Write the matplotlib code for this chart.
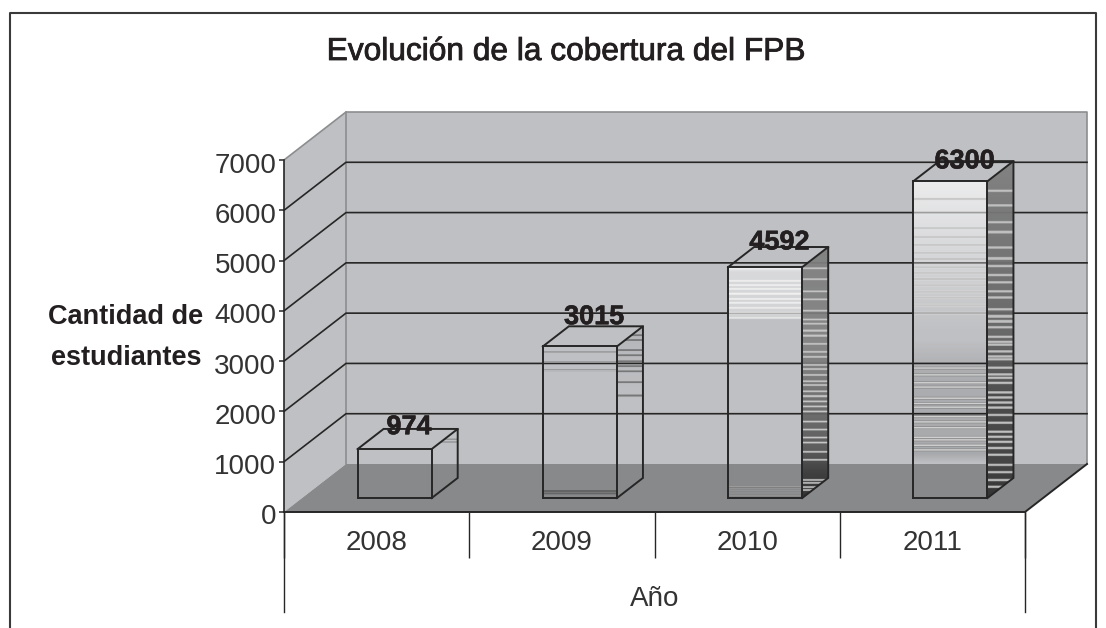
#!/usr/bin/env python3
# -*- coding: utf-8 -*-
import matplotlib
matplotlib.use("Agg")
import matplotlib.pyplot as plt
import matplotlib.patheffects as pe
import numpy as np
from matplotlib.lines import Line2D
from matplotlib.patches import Polygon
from matplotlib.transforms import ScaledTranslation

years = ["2008", "2009", "2010", "2011"]
students = [974, 3015, 4592, 6300]
y_ticks = [0, 1000, 2000, 3000, 4000, 5000, 6000, 7000]

title = "Evolución de la cobertura del FPB"
y_label = "Cantidad de\nestudiantes"
x_label = "Año"

# banding of the bar faces, as fractions of the face height (0 bottom, 1 top)
# shading anchors are (fraction, gray, alpha)
front_shade = [
    [(0, 0, 0), (1, 0, 0)],
    [(0, 0, 0), (1, 0, 0)],
    [(0, 1, 0), (0.77, 1, 0), (0.79, 1, 0.3), (0.98, 1, 0.4), (1, 1, 0.85)],
    [(0, 0, 0), (0.11, 0, 0), (0.14, 0, 0.12), (0.40, 0, 0.1), (0.50, 0, 0),
     (0.52, 1, 0), (0.60, 1, 0.12), (1, 1, 0.7)],
]
front_lines = [
    [],
    [(0.96, 0.95), (0.894, 0.9), (0.841, 0.9), (0.046, 0.45), (0.03, 0.45)],
    [(0.94, 0.97), (0.922, 0.97), (0.905, 0.97), (0.884, 0.97), (0.862, 0.97),
     (0.845, 0.97), (0.823, 0.95), (0.802, 0.95), (0.78, 0.92),
     (0.047, 0.42), (0.03, 0.42), (0.013, 0.42)],
    [(f, 0.78) for f in (0.943, 0.852, 0.823, 0.798, 0.773, 0.754, 0.729, 0.71,
                         0.691, 0.672, 0.65, 0.631, 0.609, 0.584)]
    + [(f, 0.82) for f in (0.41, 0.388, 0.363, 0.35, 0.315, 0.299, 0.287, 0.256,
                           0.24, 0.221, 0.192, 0.183, 0.167, 0.151)],
]
side_shade = [
    [(0, 0, 0), (1, 0, 0)],
    [(0, 0, 0), (0.55, 0, 0), (0.95, 0, 0.05), (1, 0, 0.1)],
    [(0, 0.2, 1), (0.1, 0.25, 1), (0.2, 0.35, 0.95), (0.6, 0.5, 0.9), (1, 0.5, 0.95)],
    [(0, 0.2, 1), (0.1, 0.27, 1), (0.3, 0.3, 1), (0.5, 0.4, 0.95), (1, 0.5, 0.95)],
]
side_lines = [
    [(0.84, 0.5), (0.8, 0.65)],
    [(f, 0.45) for f in (0.947, 0.918, 0.86, 0.83, 0.795, 0.766, 0.737, 0.673, 0.596)],
    [(f, 0.78) for f in (0.912, 0.868, 0.82, 0.788, 0.744, 0.708, 0.692, 0.664, 0.644,
                         0.612, 0.58, 0.56, 0.528, 0.512, 0.488, 0.464, 0.448, 0.424,
                         0.404, 0.384, 0.364, 0.344, 0.304, 0.272, 0.24, 0.22, 0.184,
                         0.152, 0.072, 0.06, 0.044, 0.032)],
    [(f, 0.75) for f in (0.911, 0.869, 0.818, 0.789, 0.744, 0.711, 0.688, 0.661, 0.64,
                         0.613, 0.595, 0.56, 0.539, 0.524, 0.506, 0.479, 0.464, 0.455,
                         0.435, 0.42, 0.411, 0.387, 0.366, 0.357, 0.342, 0.313, 0.298,
                         0.283, 0.268, 0.247, 0.223, 0.196, 0.182, 0.167, 0.149, 0.128,
                         0.098, 0.077, 0.054, 0.033)],
]

W, H = 1106, 628
wall_c = "#bfc0c3"
floor_c = "#88898b"
edge_c = "#8c8d8f"
ink = "#231f20"
line_c = "#262626"
num_c = "#333333"
num_size = 20

plt.rcParams["font.family"] = ["Liberation Sans", "DejaVu Sans"]

fig = plt.figure(figsize=(W / 100, H / 100), dpi=100, facecolor="white")
ax = fig.add_axes([284 / W, (H - 512) / H, (1025 - 284) / W, (512 - 160) / H])

# oblique depth: one full depth unit moves this far in data units
DX = 62 / (741 / 4)
DY = 48 / (352 / 7000)


def pr(x, y, d):
    return (x + d * DX, y + d * DY)


def texture(shade, lines, n=600):
    fr = (np.arange(n) + 0.5) / n
    a = np.array(shade)
    g = np.interp(fr, a[:, 0], a[:, 1])
    al = np.interp(fr, a[:, 0], a[:, 2])
    for f, v in lines:
        k = np.abs(fr - f) < 0.0035
        g[k] = v
        al[k] = 0.9
    return np.dstack([g, g, g, al]).reshape(n, 1, 4)


n = len(years)
xmax = n
ymax = y_ticks[-1]

# side wall, back wall, floor
ax.add_patch(Polygon([pr(0, 0, 0), pr(0, ymax, 0), pr(0, ymax, 1), pr(0, 0, 1)],
                     fc=wall_c, ec="none", zorder=1, clip_on=False))
ax.add_patch(Polygon([pr(0, 0, 1), pr(0, ymax, 1), pr(xmax, ymax, 1), pr(xmax, 0, 1)],
                     fc=wall_c, ec="none", zorder=1, clip_on=False))
ax.add_patch(Polygon([pr(0, 0, 0), pr(0, 0, 1), pr(xmax, 0, 1), pr(xmax, 0, 0)],
                     fc=floor_c, ec="none", zorder=1.5, clip_on=False))

# wall outline
for seg in ([pr(0, ymax, 0), pr(0, ymax, 1), pr(xmax, ymax, 1), pr(xmax, 0, 1)],
            [pr(0, ymax, 1), pr(0, 0, 1)]):
    xs, ys = zip(*seg)
    ax.plot(xs, ys, c=edge_c, lw=1.2, zorder=2, clip_on=False)

# grid lines
for t in y_ticks[1:-1]:
    xs, ys = zip(pr(0, t, 0), pr(0, t, 1), pr(xmax, t, 1))
    ax.plot(xs, ys, c=line_c, lw=1.2, zorder=2, clip_on=False)

# bars
bw = 0.4
d0, d1 = 0.29, 0.71
label_nudge = [8.5, 13.8, 10.5, 7.0]
for i, v in enumerate(students):
    x0 = i + 0.5 - bw / 2
    x1 = i + 0.5 + bw / 2

    fl = pr(x0, 0, d0)
    fr_ = pr(x1, 0, d0)
    tl = pr(x0, v, d0)
    tr = pr(x1, v, d0)
    br = pr(x1, 0, d1)
    tbr = pr(x1, v, d1)
    tbl = pr(x0, v, d1)

    # front face
    ax.imshow(texture(front_shade[i], front_lines[i]), origin="lower", aspect="auto",
              extent=(fl[0], fr_[0], fl[1], tl[1]), zorder=3, clip_on=False,
              interpolation="bilinear")
    # side face, rows stay horizontal and the shape cuts them
    side = Polygon([fr_, br, tbr, tr], closed=True, transform=ax.transData, fc="none", ec="none")
    ax.add_patch(side)
    im = ax.imshow(texture(side_shade[i], side_lines[i]), origin="lower", aspect="auto",
                   extent=(fr_[0], br[0], fr_[1], tbr[1]), zorder=3,
                   interpolation="bilinear")
    im.set_clip_path(side)

    for seg in ([fl, fr_, tr, tl, fl], [fr_, br, tbr, tr], [tl, tbl, tbr]):
        xs, ys = zip(*seg)
        ax.plot(xs, ys, c=line_c, lw=1.4, zorder=4, clip_on=False, solid_joinstyle="miter")

    cx, cy = pr(i + 0.5, v, 0.5)
    ax.annotate(str(v), (cx, cy), xytext=(1, label_nudge[i]), textcoords="offset points",
                ha="center", va="center", fontsize=19.5, fontweight="bold", color=ink,
                zorder=5, annotation_clip=False,
                path_effects=[pe.withStroke(linewidth=0.4, foreground=ink)])

ax.set_xlim(0, xmax)
ax.set_ylim(0, ymax)
ax.patch.set_visible(False)
for name in ("top", "right", "bottom"):
    ax.spines[name].set_visible(False)
ax.spines["left"].set_linewidth(1.2)
ax.spines["left"].set_color(line_c)
ax.spines["left"].set_zorder(6)

# front floor edge and floor right edge
xs, ys = zip(pr(0, 0, 0), pr(xmax, 0, 0), pr(xmax, 0, 1))
ax.plot(xs, ys, c=line_c, lw=1.4, zorder=6, clip_on=False)

ax.set_yticks(y_ticks)
ax.tick_params(axis="y", length=3.5, width=1.1, color=line_c, labelsize=num_size, pad=2,
               labelcolor=num_c)
for lab in ax.get_yticklabels():
    lab.set_transform(lab.get_transform() + ScaledTranslation(0, -0.025, fig.dpi_scale_trans))

ax.set_xticks(np.arange(n + 1))
ax.set_xticklabels([])
ax.set_xticks(np.arange(n) + 0.5, labels=years, minor=True)
ax.tick_params(axis="x", which="major", length=33, width=1, color=line_c)
ax.tick_params(axis="x", which="minor", length=0, labelsize=num_size, pad=13, labelcolor=num_c)

# the outer two dividers run further down, past the axis title
for xe in (0, xmax):
    ax.plot([xe, xe], [0, -1988], c=line_c, lw=1, clip_on=False, zorder=2)

ax.set_ylim(0, ymax)
ax.set_xlim(0, xmax)

ax.set_xlabel(x_label, fontsize=num_size, color=num_c)
ax.xaxis.set_label_coords(0.5, -0.2415 - 2 / 352)
ax.xaxis.label.set_va("center")

ax.set_ylabel(y_label, rotation=0, fontsize=19.5, fontweight="bold", color=ink,
              ha="center", va="center", linespacing=1.75)
ax.yaxis.set_label_coords((126 - 284) / 741, (512 - 337) / 352)

fig.text(566 / W, 1 - 52 / H, title, ha="center", va="center", fontsize=22.8, color=ink,
         path_effects=[pe.withStroke(linewidth=0.6, foreground=ink)])

# outer frame, open at the bottom
fx = [10 / W, 10 / W, 1096 / W, 1096 / W]
fy = [0, 1 - 13 / H, 1 - 13 / H, 0]
fig.add_artist(Line2D(fx, fy, color="#3a3a3a", lw=1.5, transform=fig.transFigure))

plt.savefig("out.png", dpi=100)
